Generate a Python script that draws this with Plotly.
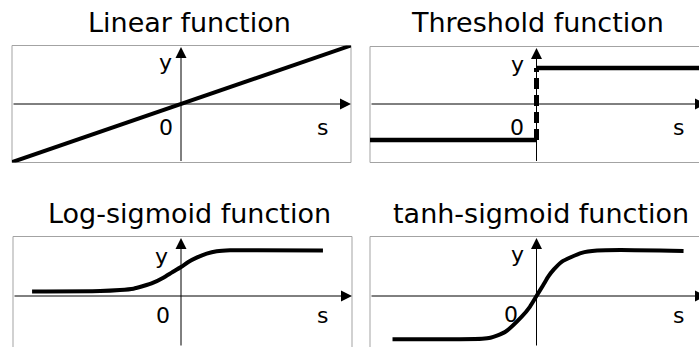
import plotly.graph_objects as go

W, H = 699, 347

# ---- data ----
linear_s = [-10.0, 10.0]
linear_y = [-1.3, 1.3]

thresh_low_s = [-10.0, 0.0]
thresh_low_y = [-0.8, -0.8]
thresh_high_s = [0.0, 10.0]
thresh_high_y = [0.8, 0.8]
thresh_jump_s = [0.0, 0.0]
thresh_jump_y = [-0.8, 0.8]

logsig_s = [-8.76, -4.76, -3.59, -2.80, -2.22, -1.63, -1.04, -0.55, 0.0, 0.43, 0.92, 1.51, 2.10, 2.88, 4.5, 8.35]
logsig_y = [0.10, 0.11, 0.133, 0.163, 0.222, 0.296, 0.407, 0.519, 0.644, 0.756, 0.852, 0.941, 0.993, 1.016, 1.016, 1.01]

tanh_s = [-8.47, -4.5, -3.2, -2.71, -1.85, -0.87, -0.39, 0.0, 0.39, 0.69, 1.02, 1.48, 2.66, 3.57, 4.94, 8.65]
tanh_y = [-0.96, -0.96, -0.95, -0.927, -0.80, -0.46, -0.24, 0.0, 0.24, 0.43, 0.59, 0.76, 0.96, 1.01, 1.02, 1.0]

titles = ["Linear function", "Threshold function", "Log-sigmoid function", "tanh-sigmoid function"]
axis_labels = ["y", "0", "s"]

# ---- layout helpers (pixel geometry) ----
HU, VU = 17.0, 45.0  # px per data unit


def px_dom_x(a, b):
    return [max(0, a / W), min(1, b / W)]


def px_dom_y(top, bot):
    return [max(0, 1 - bot / H), min(1, 1 - top / H)]


# panel: box px (left, right, top, bottom), origin px (ox, oy)
panels = [
    dict(box=(12, 351, 45.5, 162.5), org=(181, 104)),
    dict(box=(370, 699, 46.5, 162.5), org=(536.5, 104)),
    dict(box=(13, 352, 236.5, 347), org=(181, 296)),
    dict(box=(370, 699, 236.5, 347), org=(536.5, 296)),
]

fig = go.Figure()
BLACK = "#000000"
GRAY = "#a3a3a3"

layout = dict(width=W, height=H, margin=dict(l=0, r=0, t=0, b=0),
              paper_bgcolor="white", plot_bgcolor="rgba(0,0,0,0)",
              showlegend=False)
shapes, annots = [], []

for i, p in enumerate(panels):
    l, r, t, b = p["box"]
    ox, oy = p["org"]
    xr = [(l - ox) / HU, (r - ox) / HU]
    yr = [(oy - b) / VU, (oy - t) / VU]
    sfx = "" if i == 0 else str(i + 1)
    layout["xaxis" + sfx] = dict(domain=px_dom_x(l, r), range=xr, visible=False,
                                 anchor="y" + sfx, fixedrange=True)
    layout["yaxis" + sfx] = dict(domain=px_dom_y(t, b), range=yr, visible=False,
                                 anchor="x" + sfx, fixedrange=True)
    xref, yref = "x" + sfx, "y" + sfx
    # border box
    shapes.append(dict(type="rect", xref=xref + " domain", yref=yref + " domain",
                       x0=0, x1=1.0 if i in (0, 2) else 1.1,
                       y0=0 if i < 2 else -0.2, y1=1,
                       line=dict(color=GRAY, width=1), layer="below"))
    # axes with arrows
    head_x = xr[1] if i in (0, 2) else (r + 7 - ox) / HU
    annots.append(dict(x=head_x, y=0, ax=xr[0], ay=0, xref=xref, yref=yref,
                       axref=xref, ayref=yref, text="", showarrow=True,
                       arrowhead=2, arrowsize=2.2, arrowwidth=1, arrowcolor=BLACK,
                       standoff=0, startstandoff=0))
    annots.append(dict(x=0, y=(oy - t - 1.5) / VU, ax=0, ay=yr[0], xref=xref, yref=yref,
                       axref=xref, ayref=yref, text="", showarrow=True,
                       arrowhead=2, arrowsize=2.2, arrowwidth=1, arrowcolor=BLACK,
                       standoff=0, startstandoff=0))

# axis labels (px centres)
label_pos = [
    [(165, 63), (166, 127.5), (322, 127.5)],
    [(517, 64), (517, 127.5), (678, 127.5)],
    [(161, 256.5), (163, 315.5), (322, 315.5)],
    [(517, 254.5), (511, 314), (678, 315)],
]
for i, p in enumerate(panels):
    ox, oy = p["org"]
    sfx = "" if i == 0 else str(i + 1)
    for txt, (lx, ly) in zip(axis_labels, label_pos[i]):
        annots.append(dict(x=(lx - ox) / HU, y=(oy - ly) / VU, xref="x" + sfx, yref="y" + sfx,
                           text=txt, showarrow=False, xanchor="center", yanchor="middle",
                           font=dict(family="DejaVu Sans", size=22, color=BLACK)))

title_pos = [(190, 22.5), (537, 22.5), (189, 213.5), (541, 213.5)]
for txt, (tx, ty) in zip(titles, title_pos):
    annots.append(dict(x=tx / W, y=1 - ty / H, xref="paper", yref="paper", text=txt,
                       showarrow=False, xanchor="center", yanchor="middle",
                       font=dict(family="DejaVu Sans", size=27, color=BLACK)))

layout["shapes"] = shapes
layout["annotations"] = annots
fig.update_layout(**layout)

line = dict(color=BLACK, width=4)
fig.add_trace(go.Scatter(x=linear_s, y=linear_y, mode="lines", line=line, xaxis="x", yaxis="y"))
fig.add_trace(go.Scatter(x=thresh_low_s, y=thresh_low_y, mode="lines", line=dict(color=BLACK, width=4.5),
                         xaxis="x2", yaxis="y2"))
fig.add_trace(go.Scatter(x=thresh_high_s, y=thresh_high_y, mode="lines", line=dict(color=BLACK, width=4.5),
                         xaxis="x2", yaxis="y2"))
fig.add_trace(go.Scatter(x=thresh_jump_s, y=thresh_jump_y, mode="lines",
                         line=dict(color=BLACK, width=5, dash="11px,6px"), xaxis="x2", yaxis="y2"))
fig.add_trace(go.Scatter(x=logsig_s, y=logsig_y, mode="lines",
                         line=dict(color=BLACK, width=4, shape="spline", smoothing=0.6),
                         xaxis="x3", yaxis="y3"))
fig.add_trace(go.Scatter(x=tanh_s, y=tanh_y, mode="lines",
                         line=dict(color=BLACK, width=4, shape="spline", smoothing=0.6),
                         xaxis="x4", yaxis="y4"))

fig.write_html("out.html", config={"displayModeBar": False},
               post_script="document.body.style.margin='0';document.body.style.overflow='hidden';")
